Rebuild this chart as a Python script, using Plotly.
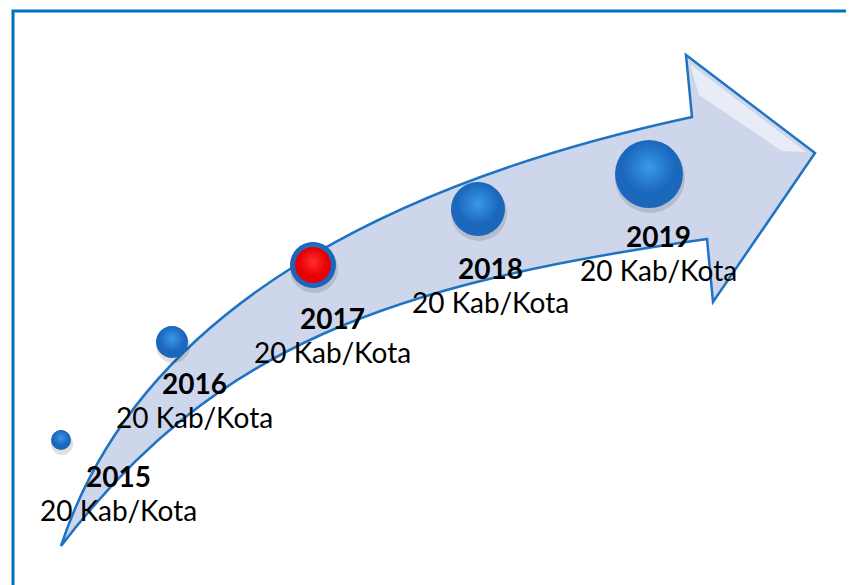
import plotly.graph_objects as go

# timeline content
years = ["2015", "2016", "2017", "2018", "2019"]
coverage = ["20 Kab/Kota", "20 Kab/Kota", "20 Kab/Kota", "20 Kab/Kota", "20 Kab/Kota"]
current = "2017"

# layout of the drawing (page pixels, y grows downwards)
ball_x = [61, 172, 313, 478, 649]
ball_y = [440, 342, 265, 209, 174]
ball_d = [20, 32, 46, 54, 68]
label_x = [118, 194, 332, 490, 658]
label_y = [476, 383, 318, 268, 236]

# curved arrow outline
tail = (61, 546)
upper_ctrl = [(140, 305), (400, 180)]
notch_top = (692, 117)
head = [(686, 55), (815, 153), (713, 302)]
notch_bottom = (707, 239)
lower_ctrl = [(390, 284), (215, 345)]

BLUE = "#1E73C4"
FILL = "#CDD6EA"
BALL = "#1A67BC"
PAGE_MARGIN = 8  # default body margin of the html page

def pt(p):
    return f"{p[0]},{p[1]}"

arrow_path = (
    f"M {pt(tail)} C {pt(upper_ctrl[0])} {pt(upper_ctrl[1])} {pt(notch_top)} "
    + " ".join(f"L {pt(p)}" for p in head)
    + f" L {pt(notch_bottom)} C {pt(lower_ctrl[0])} {pt(lower_ctrl[1])} {pt(tail)} Z"
)
shine_path = f"M {pt((690, 64))} L {pt((806, 152))} L {pt((782, 151))} L {pt((699, 95))} Z"

fig = go.Figure()

# soft shadows under the balls
fig.add_trace(go.Scatter(
    x=[x + 1 for x in ball_x], y=[y + 4 for y in ball_y], mode="markers",
    marker=dict(size=[d + 2 for d in ball_d], color="rgba(0,0,0,0.12)",
                opacity=1, line=dict(width=0)),
    hoverinfo="skip", showlegend=False))

# blue balls: solid body plus a lighter glow towards the top
# (opacity set explicitly, array sizes would otherwise default to 0.7)
fig.add_trace(go.Scatter(
    x=ball_x, y=ball_y, mode="markers",
    marker=dict(size=ball_d, color=BALL, opacity=1, line=dict(width=0)),
    hoverinfo="skip", showlegend=False))
fig.add_trace(go.Scatter(
    x=ball_x, y=[y - d * 0.1 for y, d in zip(ball_y, ball_d)], mode="markers",
    marker=dict(size=[d * 0.78 for d in ball_d], color=BALL, opacity=1, line=dict(width=0),
                gradient=dict(type="radial", color="#3A98EA")),
    hoverinfo="skip", showlegend=False))

# red core for the current year
i = years.index(current)
fig.add_trace(go.Scatter(
    x=[ball_x[i]], y=[ball_y[i]], mode="markers",
    marker=dict(size=ball_d[i] - 10, color="#E80000", opacity=1, line=dict(width=0)),
    hoverinfo="skip", showlegend=False))
fig.add_trace(go.Scatter(
    x=[ball_x[i]], y=[ball_y[i] - 3], mode="markers",
    marker=dict(size=ball_d[i] - 18, color="#E80000", opacity=1, line=dict(width=0),
                gradient=dict(type="radial", color="#FF3030")),
    hoverinfo="skip", showlegend=False))

for yr, cov, x, y in zip(years, coverage, label_x, label_y):
    fig.add_annotation(x=x, y=y, text=f"<b>{yr}</b>", showarrow=False,
                       font=dict(family="Lato", size=28, color="black"))
    fig.add_annotation(x=x, y=y + 34, text=cov, showarrow=False,
                       font=dict(family="Lato", size=28, color="black"))

fig.update_layout(
    width=854 - PAGE_MARGIN, height=585 - PAGE_MARGIN,
    margin=dict(l=0, r=0, t=0, b=0),
    paper_bgcolor="white", plot_bgcolor="white",
    xaxis=dict(range=[PAGE_MARGIN, 854], visible=False, fixedrange=True),
    yaxis=dict(range=[585, PAGE_MARGIN], visible=False, fixedrange=True),
    shapes=[
        dict(type="path", path=arrow_path, fillcolor=FILL, layer="below",
             line=dict(color=BLUE, width=2.5)),
        dict(type="path", path=shine_path, fillcolor="rgba(255,255,255,0.55)",
             layer="below", line=dict(width=0)),
        dict(type="rect", x0=13, y0=11, x1=870, y1=600, layer="below",
             line=dict(color="#0070C0", width=3), fillcolor="rgba(0,0,0,0)"),
    ],
)

fig.write_html("out.html")
